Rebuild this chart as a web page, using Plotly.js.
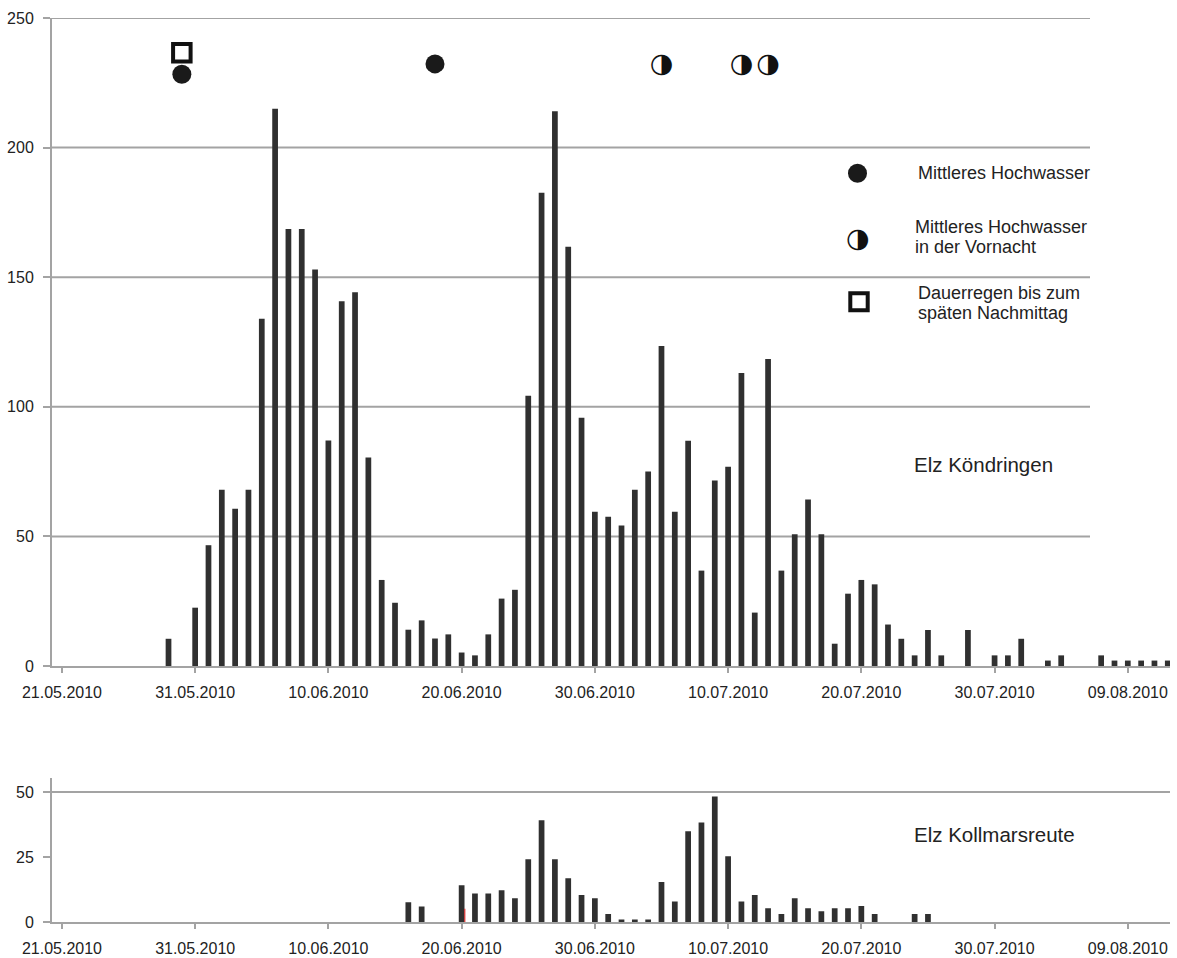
<!DOCTYPE html>
<html>
<head>
<meta charset="utf-8">
<script src="https://cdn.plot.ly/plotly-3.0.1.min.js"></script>
<style>
 body { margin: 0; background: #fff; }
 #chart { width: 1177px; height: 958px; }
</style>
</head>
<body>
<div id="chart"></div>
<script>
// Elz Köndringen, daily values (days without a bar are left out)
var koendDates = [
 '2010-05-29','2010-05-31','2010-06-01','2010-06-02','2010-06-03','2010-06-04','2010-06-05',
 '2010-06-06','2010-06-07','2010-06-08','2010-06-09','2010-06-10','2010-06-11','2010-06-12',
 '2010-06-13','2010-06-14','2010-06-15','2010-06-16','2010-06-17','2010-06-18','2010-06-19',
 '2010-06-20','2010-06-21','2010-06-22','2010-06-23','2010-06-24','2010-06-25','2010-06-26',
 '2010-06-27','2010-06-28','2010-06-29','2010-06-30','2010-07-01','2010-07-02','2010-07-03',
 '2010-07-04','2010-07-05','2010-07-06','2010-07-07','2010-07-08','2010-07-09','2010-07-10',
 '2010-07-11','2010-07-12','2010-07-13','2010-07-14','2010-07-15','2010-07-16','2010-07-17',
 '2010-07-18','2010-07-19','2010-07-20','2010-07-21','2010-07-22','2010-07-23','2010-07-24',
 '2010-07-25','2010-07-26','2010-07-28','2010-07-30','2010-07-31','2010-08-01','2010-08-03',
 '2010-08-04','2010-08-07','2010-08-08','2010-08-09','2010-08-10','2010-08-11','2010-08-12'
];
var koendValues = [
 10.5, 22.5, 46.6, 68, 60.7, 68, 134,
 215, 168.6, 168.6, 153, 87, 140.7, 144.2,
 80.4, 33.2, 24.4, 14, 17.6, 10.6, 12.2,
 5.2, 4.1, 12.2, 26, 29.4, 104.3, 182.6,
 214, 161.7, 95.8, 59.5, 57.6, 54.2, 68,
 75, 123.5, 59.5, 86.9, 36.8, 71.6, 76.9,
 113, 20.6, 118.4, 36.8, 50.8, 64.2, 50.8,
 8.6, 27.9, 33.2, 31.5, 16, 10.5, 4.1,
 13.9, 4.1, 13.9, 4.1, 4.1, 10.5, 2.1,
 4.1, 4.1, 2.1, 2.1, 2.1, 2.1, 2.1
];

// Elz Kollmarsreute
var kollDates = [
 '2010-06-16','2010-06-17','2010-06-20','2010-06-21','2010-06-22','2010-06-23','2010-06-24',
 '2010-06-25','2010-06-26','2010-06-27','2010-06-28','2010-06-29','2010-06-30','2010-07-01',
 '2010-07-02','2010-07-03','2010-07-04','2010-07-05','2010-07-06','2010-07-07','2010-07-08',
 '2010-07-09','2010-07-10','2010-07-11','2010-07-12','2010-07-13','2010-07-14','2010-07-15',
 '2010-07-16','2010-07-17','2010-07-18','2010-07-19','2010-07-20','2010-07-21','2010-07-24',
 '2010-07-25'
];
var kollValues = [
 7.6, 6.0, 14.1, 11, 11, 12.2, 9.1,
 24.1, 39.1, 24.1, 16.8, 10.4, 9.1, 3.1,
 1.0, 1.0, 1.0, 15.4, 7.9, 34.9, 38.3,
 48.3, 25.3, 7.9, 10.4, 5.3, 3.1, 9.1,
 5.3, 4.1, 5.3, 5.3, 6.2, 3.1, 3.1,
 3.1
];
// small red mark beside the 20.06 bar
var kollRedDates = ['2010-06-20'];
var kollRedValues = [5.1];

// event symbols, top chart
var koendHwDates = ['2010-05-30', '2010-06-18'];
var koendHwY = [228.3, 232.3];
var koendNightDates = ['2010-07-05', '2010-07-11', '2010-07-13'];
var koendNightY = [231.6, 231.6, 231.6];
var koendRainDates = ['2010-05-30'];
var koendRainY = [236.6];

// event symbols, bottom chart
var kollHwDates = ['2010-06-17 18:00', '2010-06-18 18:00'];
var kollHwY = [58, 58];
var kollNightDates = ['2010-07-05', '2010-07-11', '2010-07-13'];
var kollNightY = [58, 58, 58];

var topTicks = [0, 50, 100, 150, 200, 250];
var bottomTicks = [0, 25, 50];

var DAY = 86400000;
var barColor = '#303030';
var gridColor = '#a3a3a3';
var textColor = '#222222';
var fontFam = 'Liberation Sans, Arial, sans-serif';
var glyphFont = { family: 'DejaVu Sans, sans-serif', size: 27, color: '#111', weight: 'bold' };

// pixel -> paper helpers (plot area 52..1170 x 18..922)
function px(x) { return (x - 52) / (1170 - 52); }
function py(y) { return (922 - y) / (922 - 18); }

var data = [
 { type: 'bar', x: koendDates, y: koendValues, xaxis: 'x', yaxis: 'y',
   width: 0.43 * DAY, marker: { color: barColor } },
 { type: 'bar', x: kollDates, y: kollValues, xaxis: 'x2', yaxis: 'y2',
   width: 0.43 * DAY, marker: { color: barColor } },
 { type: 'bar', x: kollRedDates, y: kollRedValues, xaxis: 'x2', yaxis: 'y2',
   width: 0.08 * DAY, offset: 0.2 * DAY, marker: { color: '#e02020' } },

 { type: 'scatter', mode: 'markers', x: koendRainDates, y: koendRainY, xaxis: 'x', yaxis: 'y',
   cliponaxis: false,
   marker: { symbol: 'square', size: 17.5, color: '#ffffff', line: { color: '#111', width: 4 } } },
 { type: 'scatter', mode: 'markers', x: koendHwDates, y: koendHwY, xaxis: 'x', yaxis: 'y',
   cliponaxis: false, marker: { symbol: 'circle', size: 19, color: '#1a1a1a' } },
 { type: 'scatter', mode: 'text', x: koendNightDates, y: koendNightY, xaxis: 'x', yaxis: 'y',
   cliponaxis: false, text: ['\u25D1', '\u25D1', '\u25D1'], textposition: 'middle center',
   textfont: glyphFont },

 { type: 'scatter', mode: 'markers', x: kollHwDates, y: kollHwY, xaxis: 'x2', yaxis: 'y2',
   cliponaxis: false, marker: { symbol: 'circle', size: 19, color: '#1a1a1a' } },
 { type: 'scatter', mode: 'text', x: kollNightDates, y: kollNightY, xaxis: 'x2', yaxis: 'y2',
   cliponaxis: false, text: ['\u25D1', '\u25D1', '\u25D1'], textposition: 'middle center',
   textfont: glyphFont }
];

function xAxis(anchor) {
 return {
  type: 'date', anchor: anchor, domain: [0, 1],
  range: ['2010-05-20 06:07', '2010-08-12 04:00'],
  tick0: '2010-05-21', dtick: 10 * DAY, tickformat: '%d.%m.%Y',
  ticks: 'outside', ticklen: 5, tickwidth: 2, tickcolor: gridColor,
  showline: true, linecolor: gridColor, linewidth: 2,
  showgrid: false, zeroline: false,
  tickfont: { family: fontFam, size: 16, color: textColor },
  ticklabelstandoff: 6
 };
}
function yAxis(anchor, dom, rng, vals) {
 return {
  anchor: anchor, domain: dom, range: rng, tickvals: vals,
  ticks: 'outside', ticklen: 7, tickwidth: 2, tickcolor: gridColor,
  showline: true, linecolor: gridColor, linewidth: 2,
  showgrid: false, zeroline: false,
  tickfont: { family: fontFam, size: 16, color: textColor },
  ticklabelstandoff: 6
 };
}

var shapes = [];
[50, 100, 150, 200, 250].forEach(function (v) {
 shapes.push({ type: 'line', layer: 'below', xref: 'x domain', yref: 'y',
  x0: 0, x1: px(1090), y0: v, y1: v, line: { color: gridColor, width: 2 } });
});
shapes.push({ type: 'line', layer: 'below', xref: 'x2 domain', yref: 'y2',
 x0: 0, x1: 1, y0: 50, y1: 50, line: { color: gridColor, width: 2 } });

// legend symbols
shapes.push({ type: 'circle', xref: 'paper', yref: 'paper', xsizemode: 'pixel', ysizemode: 'pixel',
 xanchor: px(857.5), yanchor: py(173.3), x0: -9.5, x1: 9.5, y0: -9.5, y1: 9.5,
 fillcolor: '#1a1a1a', line: { width: 0 } });
shapes.push({ type: 'rect', xref: 'paper', yref: 'paper', xsizemode: 'pixel', ysizemode: 'pixel',
 xanchor: px(859), yanchor: py(301.7), x0: -8.7, x1: 8.7, y0: -8.5, y1: 8.5,
 fillcolor: '#ffffff', line: { color: '#111', width: 4 } });

function label(txt, x, y, size, anchor) {
 return { text: txt, xref: 'paper', yref: 'paper', x: px(x), y: py(y),
  xanchor: anchor || 'left', yanchor: 'middle', showarrow: false,
  font: { family: fontFam, size: size, color: textColor } };
}

var annotations = [
 { text: '\u25D1', xref: 'paper', yref: 'paper', x: px(857.5), y: py(237), xanchor: 'center',
   yanchor: 'middle', showarrow: false, font: glyphFont },
 label('Mittleres Hochwasser', 916, 172.7, 18),
 label('Mittleres Hochwasser', 913, 227, 18),
 label('in der Vornacht', 913, 246.7, 18),
 label('Dauerregen bis zum', 916, 292.7, 18),
 label('späten Nachmittag', 916, 312.7, 18),
 label('Elz Köndringen', 983.8, 465, 20.5, 'center'),
 label('Elz Kollmarsreute', 994.6, 834, 20.5, 'center')
];

var layout = {
 width: 1177, height: 958,
 margin: { l: 52, r: 7, t: 18, b: 36, pad: 0 },
 paper_bgcolor: '#ffffff', plot_bgcolor: '#ffffff',
 showlegend: false, barmode: 'overlay',
 font: { family: fontFam, color: textColor },
 xaxis: xAxis('y'),
 xaxis2: xAxis('y2'),
 yaxis: yAxis('x', [py(666), 1], [0, 250], topTicks),
 yaxis2: yAxis('x2', [0, py(777.7)], [0, 55.5], bottomTicks),
 shapes: shapes,
 annotations: annotations
};

var config = { displayModeBar: false, staticPlot: true };

Plotly.newPlot('chart', data, layout, config);
</script>
</body>
</html>
